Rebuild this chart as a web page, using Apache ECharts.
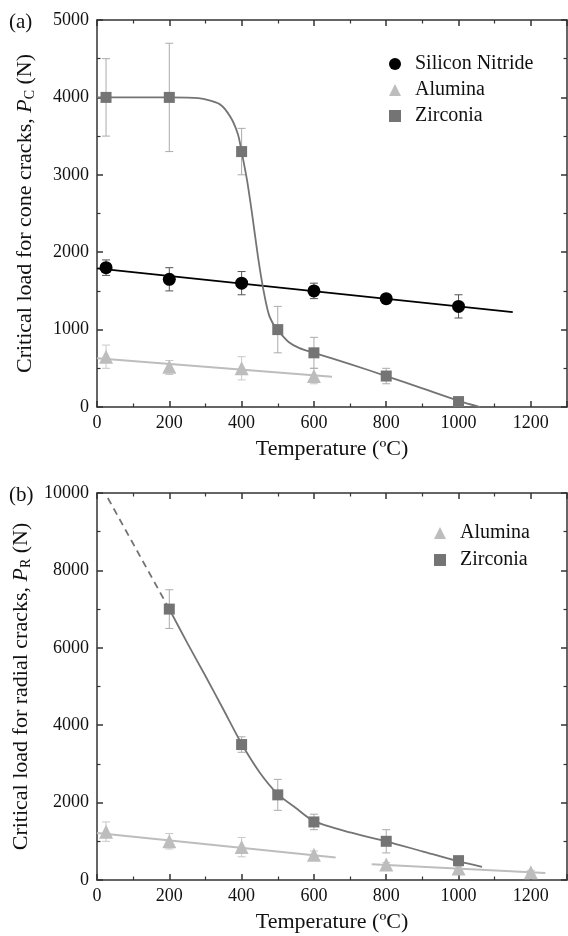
<!DOCTYPE html>
<html>
<head>
<meta charset="utf-8">
<title>Critical load vs temperature</title>
<script src="https://cdn.jsdelivr.net/npm/echarts@6/dist/echarts.min.js"></script>
<style>
html, body { margin: 0; padding: 0; background: #fff; }
#chart { width: 568px; height: 936px; }
</style>
</head>
<body>
<div id="chart"></div>
<script>
// ---- panel (a): cone cracks ----
const xTicks = [0, 200, 400, 600, 800, 1000, 1200];

const siN_T  = [25, 200, 400, 600, 800, 1000];
const siN_P  = [1800, 1650, 1600, 1500, 1400, 1300];
const siN_lo = [1700, 1500, 1450, 1400, 1380, 1150];
const siN_hi = [1900, 1800, 1750, 1600, 1420, 1450];
const siN_fitT = [0, 1150];
const siN_fitP = [1790, 1225];

const aluA_T  = [25, 200, 400, 600];
const aluA_P  = [650, 520, 500, 400];
const aluA_lo = [500, 420, 350, 300];
const aluA_hi = [800, 600, 650, 500];
const aluA_fitT = [0, 650];
const aluA_fitP = [630, 390];

const zirA_T  = [25, 200, 400, 500, 600, 800, 1000];
const zirA_P  = [4000, 4000, 3300, 1000, 700, 400, 70];
const zirA_lo = [3500, 3300, 3000, 700, 500, 300, 40];
const zirA_hi = [4500, 4700, 3600, 1300, 900, 500, 100];
const zirA_fitT = [0, 100, 200, 280, 340, 370, 390, 400, 415, 430, 445, 460, 475, 490, 500, 530, 560, 600, 700, 800, 900, 1000, 1060];
const zirA_fitP = [4000, 4000, 4000, 3990, 3910, 3740, 3520, 3300, 2930, 2460, 1950, 1520, 1200, 1050, 990, 840, 760, 700, 555, 400, 240, 80, 0];

// ---- panel (b): radial cracks ----
const aluB_T  = [25, 200, 400, 600, 800, 1000, 1200];
const aluB_P  = [1250, 1000, 850, 650, 400, 300, 200];
const aluB_lo = [1000, 800, 600, 550, 350, 250, 150];
const aluB_hi = [1500, 1200, 1100, 750, 450, 350, 250];
const aluB_fit1T = [0, 660];
const aluB_fit1P = [1215, 580];
const aluB_fit2T = [760, 1240];
const aluB_fit2P = [410, 180];

const zirB_T  = [200, 400, 500, 600, 800, 1000];
const zirB_P  = [7000, 3500, 2200, 1500, 1000, 500];
const zirB_lo = [6500, 3300, 1800, 1300, 700, 450];
const zirB_hi = [7500, 3700, 2600, 1700, 1300, 550];
const zirB_fitT = [200, 250, 300, 350, 400, 450, 500, 550, 600, 700, 800, 900, 1000, 1065];
const zirB_fitP = [7000, 6120, 5270, 4400, 3520, 2780, 2220, 1860, 1520, 1230, 1000, 740, 480, 340];
const zirB_dashT = [30, 200];
const zirB_dashP = [9870, 7000];

const FONT = '"Liberation Serif", "DejaVu Serif", serif';
const AXIS_COLOR = '#333';
const SIN_COLOR = '#000';
const ALU_COLOR = '#bdbdbd';
const ZIR_COLOR = '#747474';

const zip = (a, b) => a.map((v, i) => [v, b[i]]);

function xAxisOf(gridIndex, position, showLabels) {
  return {
    type: 'value', gridIndex: gridIndex, position: position,
    min: 0, max: 1300, interval: 200,
    name: showLabels ? 'Temperature (ºC)' : '',
    nameLocation: 'middle', nameGap: 31,
    nameTextStyle: { fontFamily: FONT, fontSize: 22, color: '#111' },
    axisLine: { show: true, onZero: false, lineStyle: { color: AXIS_COLOR, width: 1.5 } },
    axisTick: { show: true, inside: true, length: 6, lineStyle: { color: AXIS_COLOR, width: 1.5 } },
    minorTick: { show: true, splitNumber: 2, length: 3.5, lineStyle: { color: AXIS_COLOR, width: 1.2 } },
    splitLine: { show: false },
    axisLabel: {
      show: showLabels, showMaxLabel: false, margin: 7,
      fontFamily: FONT, fontSize: 18, color: '#111',
      formatter: v => (xTicks.indexOf(v) >= 0 ? String(v) : '')
    }
  };
}

function yAxisOf(gridIndex, position, max, interval, name) {
  const show = position === 'left';
  return {
    type: 'value', gridIndex: gridIndex, position: position,
    min: 0, max: max, interval: interval,
    name: show ? name : '',
    nameLocation: 'middle', nameGap: 60, nameRotate: 90,
    nameTextStyle: {
      color: '#111',
      rich: {
        t: { fontFamily: FONT, fontSize: 22, color: '#111' },
        i: { fontFamily: FONT, fontSize: 22, fontStyle: 'italic', color: '#111' },
        s: { fontFamily: FONT, fontSize: 14, color: '#111', padding: [10, 0, 0, 0] }
      }
    },
    axisLine: { show: true, onZero: false, lineStyle: { color: AXIS_COLOR, width: 1.5 } },
    axisTick: { show: true, inside: true, length: 6, lineStyle: { color: AXIS_COLOR, width: 1.5 } },
    minorTick: { show: true, splitNumber: 2, length: 3.5, lineStyle: { color: AXIS_COLOR, width: 1.2 } },
    splitLine: { show: false },
    axisLabel: {
      show: show, margin: 8, fontFamily: FONT, fontSize: 18, color: '#111',
      formatter: v => String(v)
    }
  };
}

function errorBars(T, lo, hi, color, xi, yi) {
  return {
    type: 'custom', xAxisIndex: xi, yAxisIndex: yi, z: 1, silent: true,
    data: T.map((t, i) => [t, lo[i], hi[i]]),
    encode: { x: 0, y: [1, 2] },
    renderItem: function (params, api) {
      const top = api.coord([api.value(0), api.value(2)]);
      const bot = api.coord([api.value(0), api.value(1)]);
      const w = 4;
      const st = { stroke: color, lineWidth: 1 };
      return {
        type: 'group',
        children: [
          { type: 'line', shape: { x1: top[0], y1: top[1], x2: bot[0], y2: bot[1] }, style: st },
          { type: 'line', shape: { x1: top[0] - w, y1: top[1], x2: top[0] + w, y2: top[1] }, style: st },
          { type: 'line', shape: { x1: bot[0] - w, y1: bot[1], x2: bot[0] + w, y2: bot[1] }, style: st }
        ]
      };
    }
  };
}

function fitLine(T, P, color, width, xi, yi, extra) {
  return Object.assign({
    type: 'line', xAxisIndex: xi, yAxisIndex: yi, z: 2, silent: true,
    showSymbol: false, data: zip(T, P),
    lineStyle: { color: color, width: width }
  }, extra || {});
}

function points(name, T, P, symbol, size, color, xi, yi) {
  return {
    name: name, type: 'scatter', xAxisIndex: xi, yAxisIndex: yi, z: 3,
    symbol: symbol, symbolSize: size, data: zip(T, P),
    itemStyle: { color: color, opacity: 1 }
  };
}

const chart = echarts.init(document.getElementById('chart'));

const option = {
  animation: false,
  backgroundColor: '#fff',
  title: [
    { text: '(a)', left: 4, top: 7, textStyle: { fontFamily: FONT, fontSize: 21, fontWeight: 'normal', color: '#111' } },
    { text: '(b)', left: 4, top: 480, textStyle: { fontFamily: FONT, fontSize: 21, fontWeight: 'normal', color: '#111' } }
  ],
  grid: [
    { left: 97, top: 20, width: 470, height: 387 },
    { left: 97, top: 493, width: 470, height: 387 }
  ],
  legend: [
    {
      orient: 'vertical', left: 389, top: 54, padding: 0,
      itemWidth: 12, itemHeight: 12, itemGap: 6,
      data: ['Silicon Nitride', 'Alumina', 'Zirconia'],
      textStyle: { fontFamily: FONT, fontSize: 20, color: '#111', padding: [0, 0, 0, 9] }
    },
    {
      orient: 'vertical', left: 434, top: 523, padding: 0,
      itemWidth: 12, itemHeight: 12, itemGap: 7,
      data: ['Alumina', 'Zirconia'],
      textStyle: { fontFamily: FONT, fontSize: 20, color: '#111', padding: [0, 0, 0, 9] }
    }
  ],
  xAxis: [
    xAxisOf(0, 'bottom', true),
    xAxisOf(0, 'top', false),
    xAxisOf(1, 'bottom', true),
    xAxisOf(1, 'top', false)
  ],
  yAxis: [
    yAxisOf(0, 'left', 5000, 1000, '{t|Critical load for cone cracks, }{i|P}{s|C}{t| (N)}'),
    yAxisOf(0, 'right', 5000, 1000, ''),
    yAxisOf(1, 'left', 10000, 2000, '{t|Critical load for radial cracks, }{i|P}{s|R}{t| (N)}'),
    yAxisOf(1, 'right', 10000, 2000, '')
  ],
  series: [
    // panel (a)
    errorBars(siN_T, siN_lo, siN_hi, '#555', 0, 0),
    errorBars(aluA_T, aluA_lo, aluA_hi, '#c8c8c8', 0, 0),
    errorBars(zirA_T, zirA_lo, zirA_hi, '#ababab', 0, 0),
    fitLine(siN_fitT, siN_fitP, SIN_COLOR, 1.8, 0, 0),
    fitLine(aluA_fitT, aluA_fitP, ALU_COLOR, 2, 0, 0),
    fitLine(zirA_fitT, zirA_fitP, ZIR_COLOR, 1.8, 0, 0, { smooth: 0.25 }),
    points('Silicon Nitride', siN_T, siN_P, 'circle', 13, SIN_COLOR, 0, 0),
    points('Alumina', aluA_T, aluA_P, 'triangle', 14, ALU_COLOR, 0, 0),
    points('Zirconia', zirA_T, zirA_P, 'rect', 11, ZIR_COLOR, 0, 0),
    // panel (b)
    errorBars(aluB_T, aluB_lo, aluB_hi, '#c8c8c8', 2, 2),
    errorBars(zirB_T, zirB_lo, zirB_hi, '#ababab', 2, 2),
    fitLine(aluB_fit1T, aluB_fit1P, ALU_COLOR, 2, 2, 2),
    fitLine(aluB_fit2T, aluB_fit2P, ALU_COLOR, 2, 2, 2),
    fitLine(zirB_fitT, zirB_fitP, ZIR_COLOR, 1.8, 2, 2, { smooth: 0.25 }),
    fitLine(zirB_dashT, zirB_dashP, ZIR_COLOR, 1.8, 2, 2, { lineStyle: { color: ZIR_COLOR, width: 1.8, type: [7, 5] } }),
    points('Alumina', aluB_T, aluB_P, 'triangle', 14, ALU_COLOR, 2, 2),
    points('Zirconia', zirB_T, zirB_P, 'rect', 11, ZIR_COLOR, 2, 2)
  ]
};

chart.setOption(option);
window.addEventListener('resize', () => chart.resize());
</script>
</body>
</html>
